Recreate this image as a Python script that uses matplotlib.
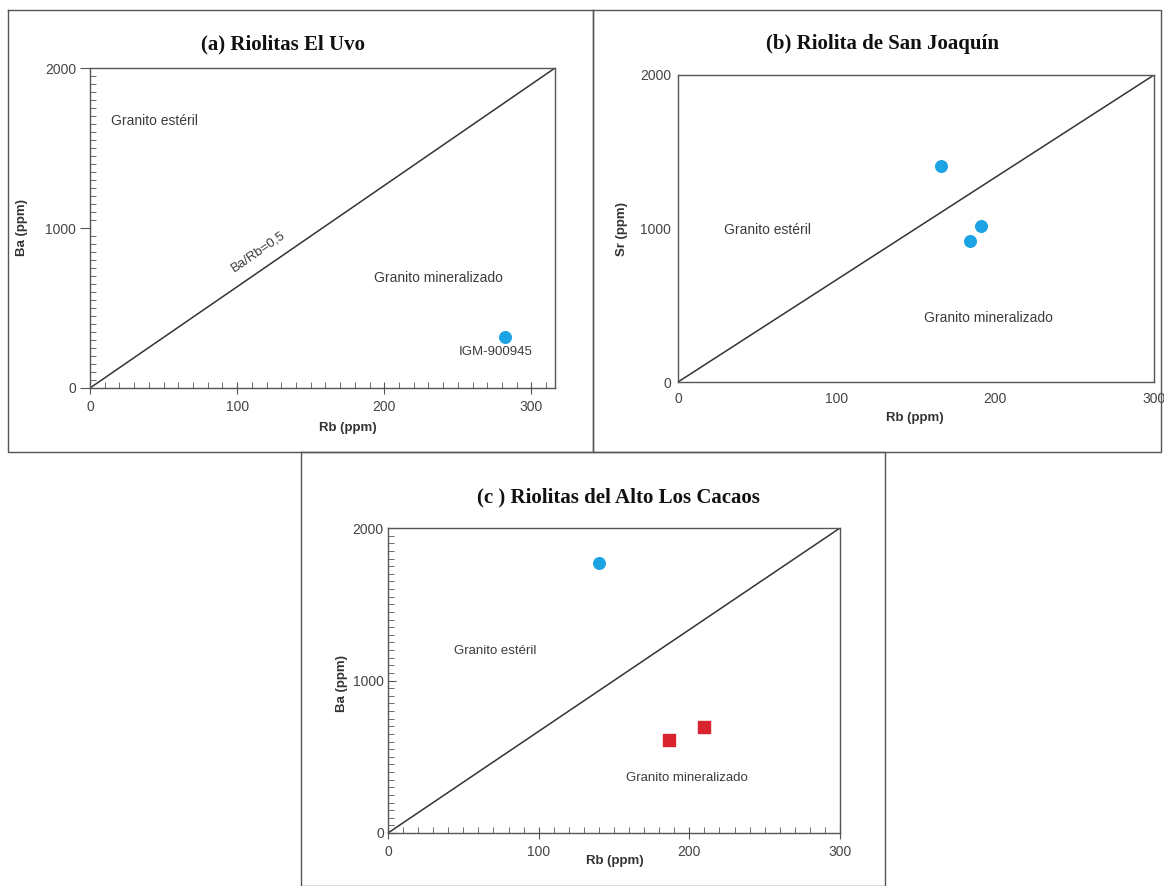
import matplotlib
matplotlib.use("Agg")
import matplotlib.pyplot as plt
from matplotlib.lines import Line2D
from matplotlib.ticker import MultipleLocator

# values
a_rb = [282]
a_ba = [320]
a_line_rb = [0, 316]
a_line_ba = [0, 2000]

b_rb = [166, 191, 184]
b_sr = [1407, 1016, 918]
b_line_rb = [0, 300]
b_line_sr = [0, 2000]

c_rb_blue = [140]
c_ba_blue = [1770]
c_rb_red = [186.5, 210]
c_ba_red = [610, 695]
c_line_rb = [0, 300]
c_line_ba = [0, 2000]

x_ticks = [0, 100, 200, 300]
y_ticks = [0, 1000, 2000]

BLUE = "#1ba3e3"
RED = "#d8232f"
LINE = "#333333"
TXT = "#3c3c3c"
W, H = 1164, 886

plt.rcParams["font.family"] = ["Liberation Sans", "DejaVu Sans"]

fig = plt.figure(figsize=(W / 100, H / 100), dpi=100)


def px_axes(l, t, r, b):
    # pixel box -> figure fraction
    return fig.add_axes([l / W, 1 - b / H, (r - l) / W, (b - t) / H])


def frame(l, t, r, b):
    xs = [l / W, r / W, r / W, l / W, l / W]
    ys = [1 - t / H, 1 - t / H, 1 - b / H, 1 - b / H, 1 - t / H]
    fig.add_artist(Line2D(xs, ys, color="#555555", lw=1.0))


def style(ax, xmax, minor=True, ydir="out"):
    ax.set_xlim(0, xmax)
    ax.set_ylim(0, 2000)
    ax.set_xticks(x_ticks)
    ax.set_yticks(y_ticks)
    for s in ax.spines.values():
        s.set_color("#555555")
        s.set_linewidth(1.0)
    ax.tick_params(labelsize=10, labelcolor="#444444", color="#555555")
    if minor:
        ax.xaxis.set_minor_locator(MultipleLocator(10))
        ax.yaxis.set_minor_locator(MultipleLocator(50))
        ax.tick_params(axis="x", which="major", direction="inout", length=9, pad=4)
        if ydir == "out":
            ax.tick_params(axis="y", which="major", direction="out", length=7, pad=3)
        else:
            ax.tick_params(axis="y", which="major", direction="in", length=6, pad=3)
        ax.tick_params(which="minor", direction="in", length=4, color="#555555")
    else:
        ax.tick_params(length=0)
        ax.tick_params(axis="x", pad=7)
        ax.tick_params(axis="y", pad=5)


def labels(ax, xl, yl, xpos, ypos):
    ax.text(xpos[0], xpos[1], xl, transform=ax.transAxes, ha="center", va="center",
            fontsize=9.5, fontweight="bold", color="#333333")
    ax.text(ypos[0], ypos[1], yl, transform=ax.transAxes, ha="center", va="center",
            rotation=90, fontsize=9.5, fontweight="bold", color="#333333")


def title(x, y, s):
    fig.text(x / W, 1 - y / H, s, ha="center", va="center", fontsize=15,
             fontweight="bold", family="Liberation Serif", color="#111111")


# (a) Riolitas El Uvo
frame(8, 10, 593, 452)
ax = px_axes(90, 68, 555, 388)
style(ax, 316)
ax.plot(a_line_rb, a_line_ba, color=LINE, lw=1.1)
ax.scatter(a_rb, a_ba, s=70, color=BLUE, zorder=3)
ax.text(14, 1670, "Granito estéril", fontsize=10, color=TXT, va="center")
ax.text(193, 690, "Granito mineralizado", fontsize=10, color=TXT, va="center")
ax.text(276, 225, "IGM-900945", fontsize=9.5, color=TXT, ha="center", va="center")
ax.text(114, 850, "Ba/Rb=0,5", fontsize=9.5, color=TXT, ha="center", va="center",
        rotation=34.5)
labels(ax, "Rb (ppm)", "Ba (ppm)", (0.555, -0.125), (-0.146, 0.5))
title(283, 44, "(a) Riolitas El Uvo")

# (b) Riolita de San Joaquín
frame(593, 10, 1161, 452)
ax = px_axes(678, 75, 1154, 382)
style(ax, 300, minor=False)
ax.plot(b_line_rb, b_line_sr, color=LINE, lw=1.1)
ax.scatter(b_rb, b_sr, s=70, color=BLUE, zorder=3)
ax.text(29, 990, "Granito estéril", fontsize=10, color=TXT, va="center")
ax.text(155, 417, "Granito mineralizado", fontsize=10, color=TXT, va="center")
labels(ax, "Rb (ppm)", "Sr (ppm)", (0.498, -0.117), (-0.118, 0.5))
title(883, 44, "(b) Riolita de San Joaquín")

# (c) Riolitas del Alto Los Cacaos
frame(301, 452, 885, 886)
ax = px_axes(388, 528, 840, 833)
style(ax, 300, ydir="in")
ax.plot(c_line_rb, c_line_ba, color=LINE, lw=1.1)
ax.scatter(c_rb_blue, c_ba_blue, s=70, color=BLUE, zorder=3)
ax.scatter(c_rb_red, c_ba_red, s=70, marker="s", color=RED, zorder=3)
ax.text(44, 1193, "Granito estéril", fontsize=9.5, color=TXT, va="center")
ax.text(158, 360, "Granito mineralizado", fontsize=9.5, color=TXT, va="center")
labels(ax, "Rb (ppm)", "Ba (ppm)", (0.502, -0.092), (-0.102, 0.49))
title(618, 497, "(c ) Riolitas del Alto Los Cacaos")

fig.savefig("out.png", dpi=100)
